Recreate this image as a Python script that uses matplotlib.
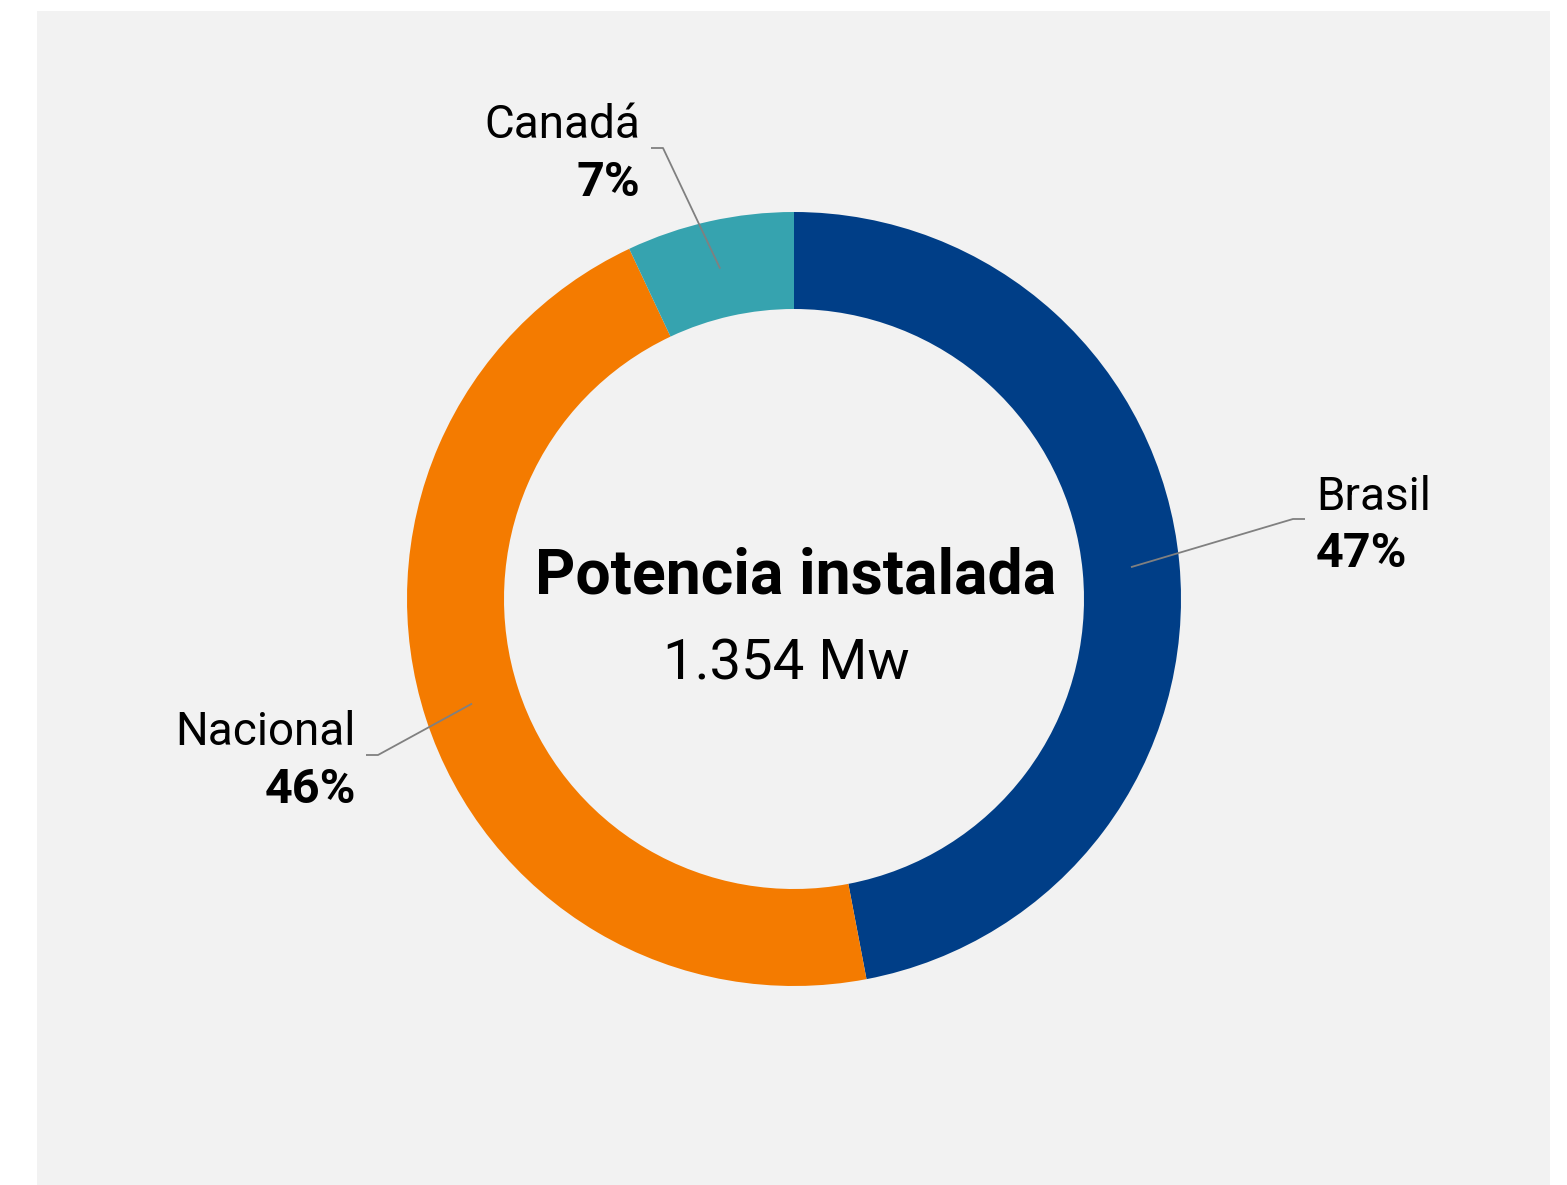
import numpy as np
import matplotlib
matplotlib.use("Agg")
from matplotlib import pyplot as plt
from matplotlib.patches import Rectangle

labels = ["Brasil", "Nacional", "Canadá"]
shares = [47, 46, 7]
colors = ["#003E87", "#F47B00", "#36A3AF"]
title = "Potencia instalada"
subtitle = "1.354 Mw"

W, H = 1567, 1185
plt.rcParams["font.family"] = ["Roboto", "DejaVu Sans"]

fig = plt.figure(figsize=(W / 100, H / 100), dpi=100, facecolor="white")
ax = fig.add_axes([0, 0, 1, 1])

cx, cy = 794, H - 599
r_out, ring = 387, 97
wedges, _ = ax.pie(shares, radius=r_out, center=(cx, cy), startangle=90,
                   counterclock=False, colors=colors, frame=False,
                   wedgeprops=dict(width=ring, linewidth=0))
ax.add_patch(Rectangle((37, 0), 1550 - 37, H - 11, facecolor="#F2F2F2",
                       edgecolor="none", zorder=-5))
ax.set_xlim(0, W)
ax.set_ylim(0, H)
ax.set_aspect("equal")
ax.axis("off")

# leader elbows and text anchors (pixel coords, y down)
elbow = {"Brasil": [(1293, 519), (1305, 519)],
         "Nacional": [(378, 755), (366, 755)],
         "Canadá": [(663, 148), (651, 148)]}
txt = {"Brasil": (1316, 510, 567, "left"),
       "Nacional": (356, 745, 803, "right"),
       "Canadá": (640, 138, 196, "right")}

r_mid = r_out - ring / 2
for w, lab, pct in zip(wedges, labels, shares):
    ang = np.deg2rad((w.theta1 + w.theta2) / 2)
    x0, y0 = cx + r_mid * np.cos(ang), cy + r_mid * np.sin(ang)
    pts = [(x0, y0)] + [(x, H - y) for x, y in elbow[lab]]
    ax.plot([p[0] for p in pts], [p[1] for p in pts], color="#808080", lw=1.3,
            solid_capstyle="butt")
    tx, y1, y2, ha = txt[lab]
    ax.text(tx, H - y1, lab, ha=ha, va="baseline", fontsize=33,
            fontweight="normal", color="black")
    ax.text(tx, H - y2, f"{pct}%", ha=ha, va="baseline", fontsize=35,
            fontweight="bold", color="black")

ax.text(796, H - 593, title, ha="center", va="baseline", fontsize=45,
        fontweight="bold", color="black")
ax.text(786, H - 680, subtitle, ha="center", va="baseline", fontsize=40.5,
        fontweight="normal", color="black")

fig.savefig("out.png", dpi=100, facecolor="white")
